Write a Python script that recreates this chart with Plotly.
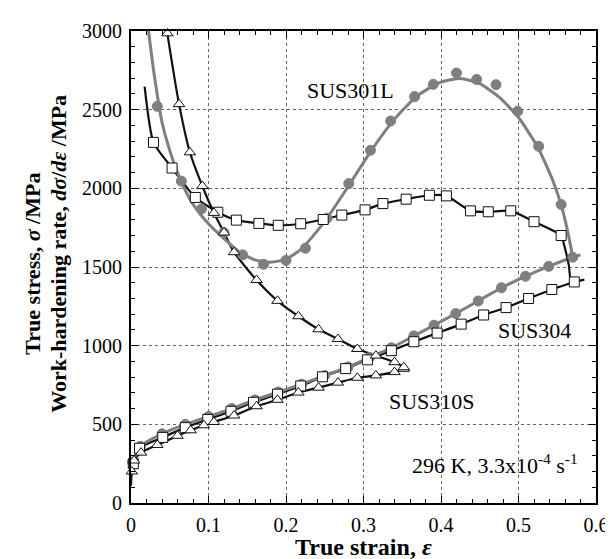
import plotly.graph_objects as go

# ---------------- data ----------------
# True stress curves
s301_x = [0.002, 0.012, 0.040, 0.070, 0.100, 0.130, 0.160, 0.190, 0.220, 0.250, 0.280, 0.308, 0.336, 0.365, 0.391, 0.419, 0.448, 0.478, 0.509, 0.539, 0.570]
s301_y = [260, 360, 440, 500, 550, 600, 655, 705, 755, 810, 865, 925, 986, 1062, 1130, 1204, 1284, 1368, 1441, 1504, 1562]
s301_line_x = s301_x + [0.580]
s301_line_y = s301_y + [1577]

s304_x = [0.003, 0.011, 0.041, 0.070, 0.099, 0.129, 0.158, 0.189, 0.219, 0.247, 0.277, 0.305, 0.336, 0.365, 0.395, 0.426, 0.455, 0.484, 0.513, 0.543, 0.572]
s304_y = [250, 348, 417, 479, 531, 583, 640, 692, 744, 802, 854, 910, 968, 1025, 1080, 1137, 1195, 1242, 1300, 1357, 1405]
s304_line_x = s304_x + [0.585]
s304_line_y = s304_y + [1420]

s310_x = [0.001, 0.004, 0.013, 0.034, 0.060, 0.077, 0.094, 0.107, 0.133, 0.162, 0.189, 0.216, 0.242, 0.267, 0.292, 0.316, 0.340, 0.352]
s310_y = [200, 270, 320, 369, 427, 462, 494, 515, 556, 615, 656, 702, 733, 765, 796, 811, 832, 853]
s310_line_x = [0.0] + s310_x
s310_line_y = [110] + s310_y

# Work-hardening rate curves
w301_x = [0.034, 0.065, 0.091, 0.120, 0.144, 0.171, 0.200, 0.225, 0.253, 0.281, 0.309, 0.335, 0.366, 0.390, 0.420, 0.446, 0.471, 0.499, 0.526, 0.555]
w301_y = [2521, 2046, 1869, 1719, 1577, 1517, 1542, 1619, 1810, 2030, 2242, 2428, 2583, 2661, 2733, 2692, 2659, 2490, 2267, 1897]
w301_line_x = [0.0226, 0.030, 0.040, 0.050, 0.065, 0.080, 0.100, 0.120, 0.140, 0.160, 0.180, 0.200, 0.220, 0.250, 0.280, 0.310, 0.340, 0.370, 0.400, 0.425, 0.450, 0.475, 0.500, 0.525, 0.545, 0.557, 0.565, 0.570]
w301_line_y = [3000, 2720, 2420, 2240, 2040, 1900, 1775, 1680, 1595, 1545, 1530, 1550, 1615, 1790, 2010, 2240, 2440, 2590, 2675, 2698, 2665, 2580, 2450, 2260, 2040, 1860, 1690, 1562]

w304_x = [0.029, 0.053, 0.083, 0.112, 0.136, 0.165, 0.190, 0.219, 0.248, 0.272, 0.302, 0.325, 0.355, 0.385, 0.407, 0.438, 0.461, 0.490, 0.520, 0.555]
w304_y = [2292, 2129, 1942, 1848, 1798, 1777, 1765, 1775, 1802, 1830, 1863, 1903, 1931, 1956, 1952, 1857, 1851, 1857, 1788, 1700]
w304_line_x = [0.0176] + w304_x + [0.559, 0.565, 0.567, 0.572]
w304_line_y = [2646] + w304_y + [1637, 1510, 1431, 1405]

w310_x = [0.047, 0.062, 0.076, 0.092, 0.107, 0.120, 0.133, 0.162, 0.189, 0.216, 0.242, 0.267, 0.292, 0.316, 0.340, 0.352]
w310_y = [2985, 2535, 2229, 2015, 1844, 1719, 1594, 1417, 1285, 1187, 1104, 1042, 979, 937, 895, 863]
w310_line_x = [0.0455] + w310_x + [0.352]
w310_line_y = [3060] + w310_y + [853]

labels = ["SUS301L", "SUS304", "SUS310S", "296 K, 3.3x10<sup>-4</sup> s<sup>-1</sup>"]
label_x = [0.2835, 0.520, 0.388, 0.470]
label_y = [2625, 1094, 646, 250]

# ---------------- styling ----------------
GREY = "#7f7f7f"
BLACK = "#111111"
FONT = "Liberation Serif"

fig = go.Figure()

def line(x, y, color, width):
    fig.add_trace(go.Scatter(x=x, y=y, mode="lines", line=dict(color=color, width=width, shape="spline", smoothing=0.6),
                             showlegend=False, hoverinfo="skip"))

def marks(x, y, symbol, fill, edge, size):
    fig.add_trace(go.Scatter(x=x, y=y, mode="markers", cliponaxis=False,
                             marker=dict(symbol=symbol, size=size, color=fill, line=dict(color=edge, width=1)),
                             showlegend=False))

# lines
line(s310_line_x, s310_line_y, BLACK, 2.2)
line(s304_line_x, s304_line_y, BLACK, 2.2)
line(s301_line_x, s301_line_y, GREY, 3)
line(w310_line_x, w310_line_y, BLACK, 2.2)
line(w304_line_x, w304_line_y, BLACK, 2.2)
line(w301_line_x, w301_line_y, GREY, 3)

# markers
marks(s301_x, s301_y, "circle", GREY, GREY, 10)
marks(w301_x, w301_y, "circle", GREY, GREY, 10)
marks(s304_x, s304_y, "square", "white", BLACK, 10)
marks(w304_x, w304_y, "square", "white", BLACK, 10)
marks(s310_x, s310_y, "triangle-up", "white", BLACK, 10)
marks(w310_x, w310_y, "triangle-up", "white", BLACK, 10)

for t, x, y in zip(labels, label_x, label_y):
    fig.add_annotation(x=x, y=y, text=t, showarrow=False, font=dict(family=FONT, size=22, color="black"))

# axis titles as rotated / placed annotations
fig.add_annotation(xref="paper", yref="paper", x=0, y=0.507, xshift=-98, xanchor="center", yanchor="middle",
                   textangle=-90, text="<b>True stress, <i>σ</i> /MPa</b>", showarrow=False,
                   font=dict(family=FONT, size=22, color="black"))
fig.add_annotation(xref="paper", yref="paper", x=0, y=0.528, xshift=-72, xanchor="center", yanchor="middle",
                   textangle=-90, text="<b>Work-hardening rate, <i>dσ</i>/<i>dε</i> /MPa</b>", showarrow=False,
                   font=dict(family=FONT, size=22, color="black"))
fig.add_annotation(xref="paper", yref="paper", x=0.5, y=0, yshift=-44, xanchor="center", yanchor="middle",
                   text="<b>True strain, <i>ε</i></b>", showarrow=False,
                   font=dict(family=FONT, size=24, color="black"))

axis_common = dict(showline=True, linecolor="black", linewidth=2, mirror="allticks",
                   ticks="inside", ticklen=7, tickcolor="black", tickwidth=1,
                   showgrid=True, gridcolor="#666666", griddash="dot", gridwidth=1,
                   zeroline=False, tickfont=dict(family=FONT, size=20, color="black"),
                   ticklabelstandoff=3)

fig.update_xaxes(range=[0, 0.6], tick0=0, dtick=0.1,
                 minor=dict(ticks="inside", dtick=0.02, ticklen=4, tickcolor="black", showgrid=False),
                 **axis_common)
fig.update_yaxes(range=[0, 3000], tick0=0, dtick=500,
                 minor=dict(ticks="inside", dtick=100, ticklen=4, tickcolor="black", showgrid=False),
                 **axis_common)

fig.update_layout(width=613, height=559, autosize=False,
                  margin=dict(l=123, r=13, t=15, b=64),
                  plot_bgcolor="white", paper_bgcolor="white",
                  font=dict(family=FONT, color="black"))

fig.write_html("out.html")
